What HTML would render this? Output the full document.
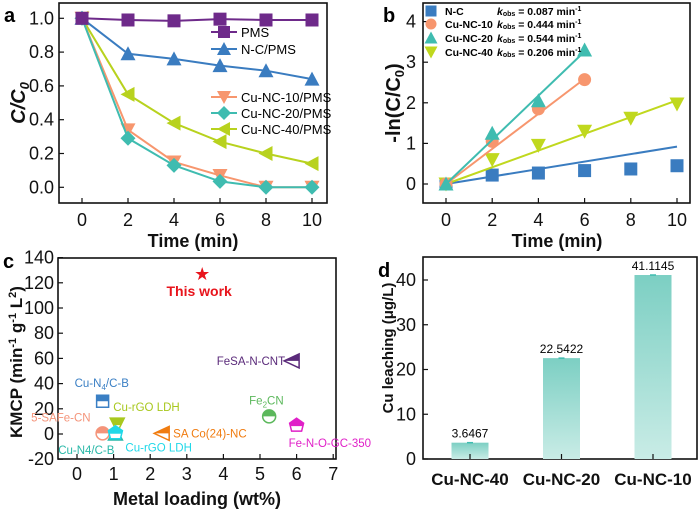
<!DOCTYPE html>
<html><head><meta charset="utf-8"><style>
body{margin:0;background:#fff}
svg{display:block;font-family:"Liberation Sans",Arial,sans-serif}
.tk{font-size:18px;fill:#111}
.ti{font-size:18px;font-weight:bold;fill:#111}
.pl{font-size:20px;font-weight:bold}
</style></head><body>
<svg id="fig" width="700" height="513" viewBox="0 0 700 513">
<defs><linearGradient id="bg" x1="0" y1="0" x2="0" y2="1"><stop offset="0" stop-color="#7ccfc3"/><stop offset="1" stop-color="#c9ece6"/></linearGradient></defs>
</svg>
<script>
// ---- data ----
const timesA=[0,2,4,6,8,10];
const pmsVals=[1,0.99,0.985,0.995,0.99,0.99];
const ncVals=[1,0.79,0.76,0.72,0.69,0.64];
const cu10Vals=[1,0.34,0.15,0.07,0,0];
const cu20Vals=[1,0.29,0.13,0.035,0,0];
const cu40Vals=[1,0.55,0.38,0.27,0.2,0.14];
const ticksA=[0,0.2,0.4,0.6,0.8,1.0];
const ncLn=[0,0.22,0.27,0.33,0.37,0.45];
const cu10Ln=[0,1.05,1.85,2.57];
const cu20Ln=[0,1.25,2.05,3.3];
const cu40Ln=[0,0.6,0.95,1.3,1.62,1.97];
const kNC=0.092, k10=0.432, k20=0.544, k40=0.206;
const ticksB=[0,1,2,3,4];
const cLoad=[3.42,5.85,0.7,5.25,1.1,0.7,1.05,2.3,6.0,1.05];
const cKmcp=[127,58,26,14,7,0.5,0,0.5,7,1];
const cLabels=["This work","FeSA-N-CNT","Cu-N4/C-B","Fe2CN","Cu-rGO LDH","5-SAFe-CN","Cu-N4/C-B","SA Co(24)-NC","Fe-N-O-GC-350","Cu-rGO LDH"];
const cColors=["#e8141c","#5a2a7a","#3a7fc4","#5cb85c","#a8c81e","#f4947a","#2ab8a8","#f07c10","#e020c8","#20d8e8"];
const ticksCy=[-20,0,20,40,60,80,100,120,140];
const ticksCx=[0,1,2,3,4,5,6,7];
const dCats=["Cu-NC-40","Cu-NC-20","Cu-NC-10"];
const dVals=[3.6467,22.5422,41.1145];
const ticksD=[0,10,20,30,40];

const svg=document.getElementById('fig');
const NS='http://www.w3.org/2000/svg';
function mk(tag,at,txt,parent){const e=document.createElementNS(NS,tag);for(const k in at)e.setAttribute(k,at[k]);if(txt!=null)e.textContent=txt;(parent||svg).appendChild(e);return e;}

function frame(l,t,r,b,name){
  const e=mk('rect',{x:l,y:t,width:r-l,height:b-t,fill:'none',stroke:'#111','stroke-width':1.6});
  
  
}
function marker(type,x,y,c,g,s){
  s=s||7;let e;
  if(type==='sq')e=mk('rect',{x:x-s,y:y-s,width:2*s,height:2*s,fill:c},null,g);
  else if(type==='up')e=mk('polygon',{points:`${x},${y-s-1} ${x-s-1},${y+s} ${x+s+1},${y+s}`,fill:c},null,g);
  else if(type==='dn')e=mk('polygon',{points:`${x},${y+s+1} ${x-s-1},${y-s} ${x+s+1},${y-s}`,fill:c},null,g);
  else if(type==='lt')e=mk('polygon',{points:`${x-s-1},${y} ${x+s},${y-s-1} ${x+s},${y+s+1}`,fill:c},null,g);
  else if(type==='di')e=mk('polygon',{points:`${x},${y-s-1} ${x+s+1},${y} ${x},${y+s+1} ${x-s-1},${y}`,fill:c},null,g);
  else if(type==='ci')e=mk('circle',{cx:x,cy:y,r:s,fill:c},null,g);
  
  
}

// ---- Panel a ----
{const L=59,R=327,T=3,B=203;
 const xa=v=>82+v*23, ya=v=>187.3-v*169;
 frame(L,T,R,B,'panel-a-frame');
 ticksA.forEach(v=>{mk('line',{x1:L,x2:L+5,y1:ya(v),y2:ya(v),stroke:'#111','stroke-width':1.2});const t=mk('text',{x:L-5,y:ya(v)+6,'text-anchor':'end',class:'tk'},v.toFixed(1));});
 [0,2,4,6,8,10].forEach(v=>{mk('line',{x1:xa(v),x2:xa(v),y1:B,y2:B-5,stroke:'#111','stroke-width':1.2});const t=mk('text',{x:xa(v),y:B+23,'text-anchor':'middle',class:'tk'},v);});
 const series=[[cu40Vals,'#b8d21e','lt'],[cu10Vals,'#f7966e','dn'],[cu20Vals,'#3fbcb0','di'],[ncVals,'#3a7cc0','up'],[pmsVals,'#6e2a8a','sq']];
 series.forEach(([vals,c,m])=>{const g=mk('g',{});
   mk('polyline',{points:vals.map((v,i)=>xa(timesA[i])+','+ya(v)).join(' '),fill:'none',stroke:c,'stroke-width':2},null,g);
   vals.forEach((v,i)=>marker(m,xa(timesA[i]),ya(v),c,g,6.5));});
 const leg=[['PMS','#6e2a8a','sq',32],['N-C/PMS','#3a7cc0','up',49],['Cu-NC-10/PMS','#f7966e','dn',97],['Cu-NC-20/PMS','#3fbcb0','di',113],['Cu-NC-40/PMS','#b8d21e','lt',129]];
 leg.forEach(([n,c,m,y])=>{const g=mk('g',{});
   mk('line',{x1:211,x2:237,y1:y,y2:y,stroke:c,'stroke-width':2},null,g);marker(m,224,y,c,g,6);mk('text',{x:241,y:y+5,style:'font-size:13px'},n,g);});
 const yt=mk('text',{transform:'translate(25,103) rotate(-90)','text-anchor':'middle',class:'ti',style:'font-size:20px;font-style:italic'},'C/C');
 mk('tspan',{'font-size':'13','dy':'4'},'0',yt);
 const xt=mk('text',{x:193,y:247,'text-anchor':'middle',class:'ti'},'Time (min)');
 const p=mk('text',{x:4,y:22,class:'pl'},'a');
}
// ---- Panel b ----
{const L=423,R=690,T=3,B=203;
 const xb=v=>446+v*23.1, yb=v=>184-v*40.6;
 frame(L,T,R,B,'panel-b-frame');
 ticksB.forEach(v=>{mk('line',{x1:L,x2:L+5,y1:yb(v),y2:yb(v),stroke:'#111','stroke-width':1.2});const t=mk('text',{x:L-7,y:yb(v)+6,'text-anchor':'end',class:'tk'},v);});
 [0,2,4,6,8,10].forEach(v=>{mk('line',{x1:xb(v),x2:xb(v),y1:B,y2:B-5,stroke:'#111','stroke-width':1.2});const t=mk('text',{x:xb(v),y:B+23,'text-anchor':'middle',class:'tk'},v);});
 const s=[[ncLn,kNC,10,'#3a7cc0','sq'],[cu40Ln,k40,10,'#c0d81e','dn'],[cu10Ln,k10,6,'#f7966e','ci'],[cu20Ln,k20,6,'#3fbcb0','up']];
 s.forEach(([vals,k,tm,c,m])=>{const g=mk('g',{});
   mk('line',{x1:xb(0),y1:yb(0),x2:xb(tm),y2:yb(k*tm),stroke:c,'stroke-width':2},null,g);
   vals.forEach((v,i)=>marker(m,xb(timesA[i]),yb(v),c,g,6.5));});
 const leg=[['N-C','0.087','#3a7cc0','sq',11],['Cu-NC-10','0.444','#f7966e','ci',24],['Cu-NC-20','0.544','#3fbcb0','up',38],['Cu-NC-40','0.206','#c0d81e','dn',52]];
 leg.forEach(([n,k,c,m,y])=>{const g=mk('g',{});
   marker(m,431,y,c,g,5.5);mk('text',{x:445,y:y+4,style:'font-size:10.5px;font-weight:bold'},n,g);
   const t=mk('text',{x:497,y:y+4,style:'font-size:10.5px;font-weight:bold'},null,g);
   mk('tspan',{'font-style':'italic'},'k',t);mk('tspan',{'font-size':'7','dy':'1'},'obs',t);mk('tspan',{'dy':'-1'},' = '+k+' min',t);mk('tspan',{'font-size':'7','dy':'-4'},'-1',t);});
 const yt=mk('text',{transform:'translate(400,103) rotate(-90)','text-anchor':'middle',class:'ti',style:'font-size:20px'},'-ln(C/C');
 mk('tspan',{'font-size':'13','dy':'4'},'0',yt);mk('tspan',{'dy':'-4'},')',yt);
 const xt=mk('text',{x:557,y:247,'text-anchor':'middle',class:'ti'},'Time (min)');
 const p=mk('text',{x:383,y:22,class:'pl'},'b');
}
// ---- Panel c ----
{const L=58,R=336,T=258,B=459;
 const xc=v=>77+v*36.6, yc=v=>434-v*1.26;
 frame(L,T,R,B,'panel-c-frame');
 ticksCy.forEach(v=>{mk('line',{x1:L,x2:L+5,y1:yc(v),y2:yc(v),stroke:'#111','stroke-width':1.2});const t=mk('text',{x:L-4,y:yc(v)+6,'text-anchor':'end',class:'tk'},v);});
 ticksCx.forEach(v=>{mk('line',{x1:xc(v),x2:xc(v),y1:B,y2:B-5,stroke:'#111','stroke-width':1.2});const t=mk('text',{x:xc(v),y:B+21,'text-anchor':'middle',class:'tk'},v);});
 const lp=[[-20,-15,'middle'],[-6,4,'end'],[-28,-14,'start'],[-20,-12,'start'],[-4,-14,'start'],[-12,-12,'end'],[-1,20,'end'],[12,4,'start'],[-8,22,'start'],[10,19,'start']];
 const types=['star','lt','sq','ci','dn','ci','up','lt','di','di'];
 cLoad.forEach((v,i)=>{const g=mk('g',{});
   const x=xc(v),y=yc(cKmcp[i]),c=cColors[i];
   if(i===0){mk('text',{x:x,y:y+6,'text-anchor':'middle',fill:c,style:'font-size:18px'},'★',g);}
   else if(types[i]==='lt'){mk('polygon',{points:`${x+8},${y-7} ${x-7},${y} ${x+8},${y+7}`,fill:'#fff',stroke:c,'stroke-width':1.5},null,g);mk('polygon',{points:`${x+8},${y-7} ${x-7},${y} ${x+8},${y}`,fill:c},null,g);}
   else if(types[i]==='sq'){mk('rect',{x:x-6,y:y-6,width:12,height:12,fill:'#fff',stroke:c,'stroke-width':1.5},null,g);mk('rect',{x:x-6,y:y-6,width:12,height:6,fill:c},null,g);}
   else if(types[i]==='ci'){mk('circle',{cx:x,cy:y,r:6.5,fill:'#fff',stroke:c,'stroke-width':1.5},null,g);mk('path',{d:`M${x-6.5},${y} A6.5,6.5 0 0 1 ${x+6.5},${y} Z`,fill:c},null,g);}
   else if(types[i]==='dn'){mk('polygon',{points:`${x-7},${y-7} ${x+7},${y-7} ${x},${y+7}`,fill:'#fff',stroke:c,'stroke-width':1.5},null,g);mk('polygon',{points:`${x-7},${y-7} ${x+7},${y-7} ${x+3.5},${y} ${x-3.5},${y}`,fill:c},null,g);}
   else if(types[i]==='up'){mk('polygon',{points:`${x},${y-7} ${x+7},${y+6} ${x-7},${y+6}`,fill:'#fff',stroke:c,'stroke-width':1.5},null,g);}
   else {mk('polygon',{points:`${x},${y-7} ${x+7},${y-2} ${x+5},${y+6} ${x-5},${y+6} ${x-7},${y-2}`,fill:'#fff',stroke:c,'stroke-width':1.5},null,g);mk('polygon',{points:`${x},${y-7} ${x+7},${y-2} ${x+6},${y+1} ${x-6},${y+1} ${x-7},${y-2}`,fill:c},null,g);}
   const lbl=cLabels[i];const t=mk('text',{x:x+lp[i][0],y:y+lp[i][1],'text-anchor':lp[i][2],fill:c,style:i===0?'font-size:14px;font-weight:bold':'font-size:11.5px'},null,g);
   if(lbl==='Cu-N4/C-B'&&i===2){t.textContent='Cu-N';mk('tspan',{'font-size':'8','dy':'3'},'4',t);mk('tspan',{'dy':'-3'},'/C-B',t);}
   else if(lbl==='Fe2CN'){t.textContent='Fe';mk('tspan',{'font-size':'8','dy':'3'},'2',t);mk('tspan',{'dy':'-3'},'CN',t);}
   else t.textContent=lbl;
   if(i===0)t.setAttribute('x',x-3),t.setAttribute('y',y+22);
 });
 const yt=mk('text',{transform:'translate(22,362) rotate(-90)','text-anchor':'middle',class:'ti',style:'font-size:17px'},'KMCP (min');
 mk('tspan',{'font-size':'11','dy':'-6'},'-1',yt);mk('tspan',{'dy':'6'},' g',yt);mk('tspan',{'font-size':'11','dy':'-6'},'-1',yt);mk('tspan',{'dy':'6'},' L',yt);mk('tspan',{'font-size':'11','dy':'-6'},'2',yt);mk('tspan',{'dy':'6'},')',yt);
 const xt=mk('text',{x:197,y:505,'text-anchor':'middle',class:'ti'},'Metal loading (wt%)');
 const p=mk('text',{x:3,y:268,class:'pl'},'c');
}
// ---- Panel d ----
{const L=423,R=697,T=257,B=459;
 const yd=v=>459-v*4.475, xd=i=>470+i*91.5;
 frame(L,T,R,B,'panel-d-frame');
 ticksD.forEach(v=>{mk('line',{x1:L,x2:L+5,y1:yd(v),y2:yd(v),stroke:'#111','stroke-width':1.2});const t=mk('text',{x:L-7,y:yd(v)+6,'text-anchor':'end',class:'tk'},v);});
 dCats.forEach((c,i)=>{const x=xd(i);
   const b=mk('rect',{x:x-18.5,y:yd(dVals[i]),width:37,height:B-yd(dVals[i]),fill:'url(#bg)'});
   mk('line',{x1:x-3,x2:x+3,y1:yd(dVals[i]),y2:yd(dVals[i]),stroke:'#3fbcb0','stroke-width':1.5});
   const v=mk('text',{x:x,y:yd(dVals[i])-5,'text-anchor':'middle',style:'font-size:12px'},String(dVals[i]));
   mk('line',{x1:x,x2:x,y1:B,y2:B-5,stroke:'#111','stroke-width':1.2});
   const t=mk('text',{x:x,y:B+26,'text-anchor':'middle',class:'ti',style:'font-size:17px'},c);});
 const yt=mk('text',{transform:'translate(393,348) rotate(-90)','text-anchor':'middle',class:'ti',style:'font-size:15px'},'Cu leaching (μg/L)');
 const p=mk('text',{x:378,y:277,class:'pl'},'d');
}
</script>
</body></html>
